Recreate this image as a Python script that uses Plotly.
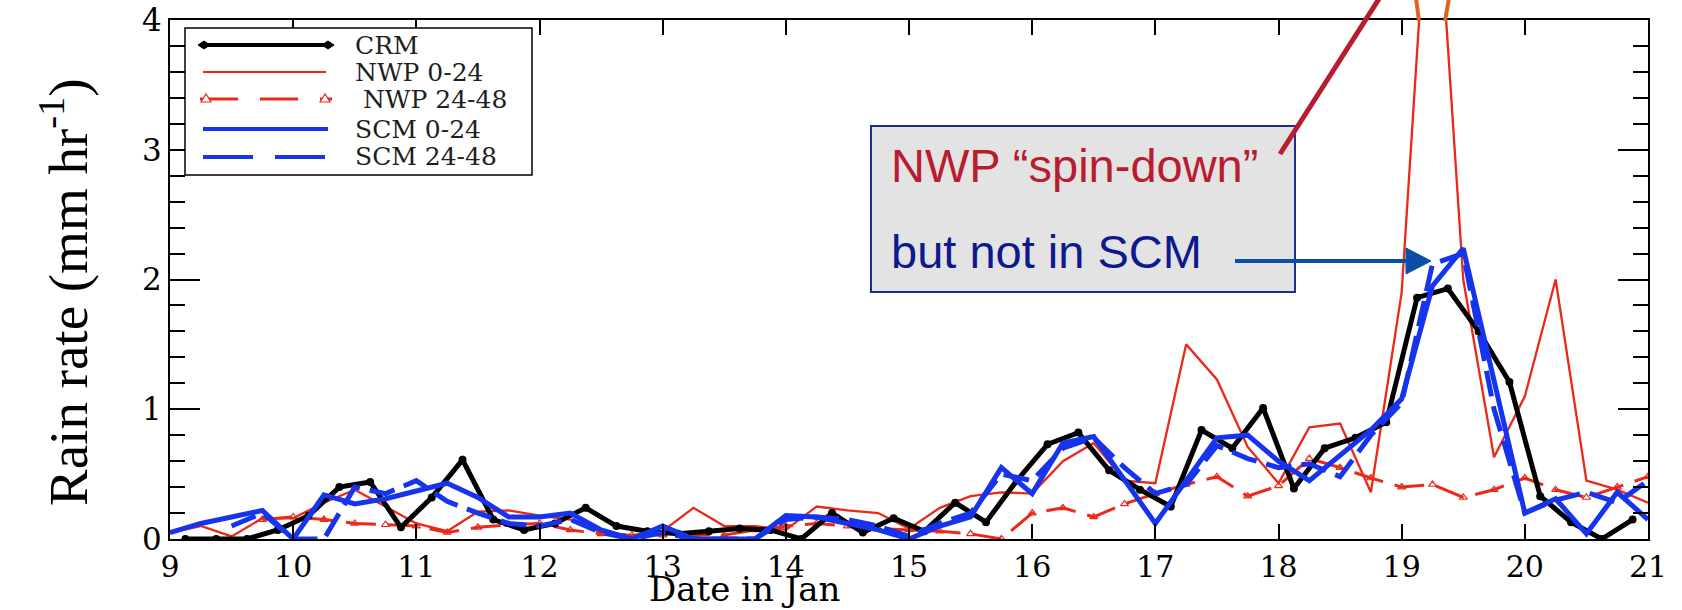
import plotly.graph_objects as go

# ---------------- data (rain rate, mm/hr) ----------------
crm_x0 = 9.125   # CRM sampled 6-hourly from 9.125
crm = [0.0, 0.0, 0.0, 0.07, 0.18, 0.40, 0.44, 0.09, 0.32, 0.61, 0.15, 0.07,
       0.12, 0.24, 0.10, 0.06, 0.04, 0.06, 0.08, 0.07, 0.0, 0.20, 0.05, 0.16,
       0.06, 0.28, 0.13, 0.45, 0.73, 0.82, 0.53, 0.38, 0.25, 0.84, 0.70, 1.01,
       0.39, 0.70, 0.78, 0.90, 1.86, 1.93, 1.60, 1.21, 0.33, 0.13, 0.0, 0.15]

nwp0_x0 = 9.0
nwp_0_24 = [0.05, 0.10, 0.02, 0.16, 0.16, 0.28, 0.38, 0.25, 0.12, 0.06, 0.21, 0.22,
            0.18, 0.15, 0.05, 0.03, 0.06, 0.24, 0.10, 0.10, 0.07, 0.25, 0.22, 0.20,
            0.08, 0.24, 0.33, 0.36, 0.35, 0.60, 0.74, 0.45, 0.43, 1.50, 1.23, 0.71,
            0.43, 0.86, 0.89, 0.36, 1.90, 5.60, 2.00, 0.63, 1.10, 2.00, 0.45, 0.38,
            0.28]

nwp24_x0 = 9.75
nwp_24_48 = [0.15, 0.17, 0.15, 0.12, 0.11, 0.10, 0.05, 0.09, 0.11, 0.12, 0.07, 0.04,
             0.03, 0.03, 0.03, 0.03, 0.07, 0.10, 0.12, 0.10, 0.08, 0.07, 0.06, 0.04,
             0.0, 0.20, 0.24, 0.17, 0.27, 0.35, 0.42, 0.48, 0.33, 0.41, 0.62, 0.55,
             0.47, 0.40, 0.42, 0.32, 0.38, 0.47, 0.38, 0.32, 0.40, 0.48]

scm0_x0 = 9.0
scm_0_24 = [0.05, 0.12, 0.17, 0.22, 0.0, 0.34, 0.27, 0.31, 0.37, 0.43, 0.32, 0.17,
            0.17, 0.20, 0.07, 0.0, 0.10, 0.0, 0.0, 0.0, 0.18, 0.17, 0.12, 0.07,
            0.0, 0.10, 0.17, 0.55, 0.35, 0.74, 0.79, 0.45, 0.12, 0.45, 0.78, 0.80,
            0.60, 0.45, 0.64, 0.84, 1.08, 1.95, 2.24, 1.20, 0.20, 0.31, 0.04, 0.36,
            0.15]

scm24_x0 = 9.5
scm_24_48 = [0.10, 0.20, 0.0, 0.0, 0.40, 0.35, 0.45, 0.29, 0.20, 0.12, 0.10, 0.15,
             0.05, 0.0, 0.05, 0.0, 0.0, 0.0, 0.15, 0.17, 0.15, 0.10, 0.02, 0.12,
             0.20, 0.50, 0.45, 0.70, 0.78, 0.55, 0.35, 0.42, 0.72, 0.62, 0.55, 0.58,
             0.48, 0.80, 1.05, 2.12, 2.20, 1.00, 0.20, 0.30, 0.36, 0.28, 0.45]

step = 0.25
x_ticks = list(range(9, 22))
y_ticks = [0, 1, 2, 3, 4]
legend_names = ["CRM", "NWP 0-24", " NWP 24-48", "SCM 0-24", "SCM 24-48"]


def xs(x0, vals):
    return [x0 + step * i for i in range(len(vals))]


# ---------------- styling ----------------
W, H = 1682, 610
L, R, T, B = 170, 1648, 20, 539
RED = "rgb(236,40,24)"
BLUE = "rgb(22,52,238)"
BLACK = "black"
CRIMSON = "#b81c2e"
NAVY = "#0c1a8c"
ARROW = "#0b4ea6"
ORANGE = "#e0621c"
SERIF = "DejaVu Serif"


def px(x):
    return (x - L) / (R - L)


def py(y):
    return (B - y) / (B - T)


fig = go.Figure()
fig.add_trace(go.Scatter(x=xs(nwp24_x0, nwp_24_48), y=nwp_24_48, mode="lines+markers",
                         line=dict(color=RED, width=3, dash="30px,12px"),
                         marker=dict(symbol="triangle-up-open", size=7, color=RED,
                                     line=dict(width=1.2, color=RED)),
                         showlegend=False))
fig.add_trace(go.Scatter(x=xs(nwp0_x0, nwp_0_24), y=nwp_0_24, mode="lines",
                         line=dict(color=RED, width=2.3), showlegend=False))
fig.add_trace(go.Scatter(x=xs(crm_x0, crm), y=crm, mode="lines+markers",
                         line=dict(color=BLACK, width=5),
                         marker=dict(symbol="circle", size=8, color=BLACK),
                         showlegend=False))
fig.add_trace(go.Scatter(x=xs(scm24_x0, scm_24_48), y=scm_24_48, mode="lines",
                         line=dict(color=BLUE, width=5, dash="26px,10px"),
                         showlegend=False))
fig.add_trace(go.Scatter(x=xs(scm0_x0, scm_0_24), y=scm_0_24, mode="lines",
                         line=dict(color=BLUE, width=5), showlegend=False))

shapes = []
annotations = []

# ---- hand-drawn legend box ----
shapes.append(dict(type="rect", xref="paper", yref="paper",
                   x0=px(185), x1=px(532), y0=py(175), y1=py(28),
                   line=dict(color="black", width=1.5), fillcolor="white"))
rows = [45, 72, 99, 129, 157]
# CRM
shapes.append(dict(type="line", xref="paper", yref="paper", x0=px(203), x1=px(329),
                   y0=py(rows[0]), y1=py(rows[0]), line=dict(color=BLACK, width=4)))
for cx in (204, 328):
    shapes.append(dict(type="path", xref="paper", yref="paper",
                       path=f"M {px(cx-6)},{py(rows[0])} L {px(cx)},{py(rows[0]-4)} "
                            f"L {px(cx+6)},{py(rows[0])} L {px(cx)},{py(rows[0]+4)} Z",
                       fillcolor=BLACK, line=dict(color=BLACK, width=1)))
# NWP 0-24
shapes.append(dict(type="line", xref="paper", yref="paper", x0=px(203), x1=px(326),
                   y0=py(rows[1]), y1=py(rows[1]), line=dict(color=RED, width=2)))
# NWP 24-48
shapes.append(dict(type="line", xref="paper", yref="paper", x0=px(200), x1=px(332),
                   y0=py(rows[2]), y1=py(rows[2]),
                   line=dict(color=RED, width=3, dash="38px,22px")))
for cx in (206, 325):
    shapes.append(dict(type="path", xref="paper", yref="paper",
                       path=f"M {px(cx-5)},{py(rows[2]+3)} L {px(cx)},{py(rows[2]-5)} "
                            f"L {px(cx+5)},{py(rows[2]+3)} Z",
                       fillcolor="white", line=dict(color=RED, width=1.2)))
# SCM 0-24
shapes.append(dict(type="line", xref="paper", yref="paper", x0=px(203), x1=px(328),
                   y0=py(rows[3]), y1=py(rows[3]), line=dict(color=BLUE, width=4)))
# SCM 24-48
shapes.append(dict(type="line", xref="paper", yref="paper", x0=px(203), x1=px(326),
                   y0=py(rows[4]), y1=py(rows[4]),
                   line=dict(color=BLUE, width=4, dash="50px,22px")))
for i, name in enumerate(legend_names):
    annotations.append(dict(xref="paper", yref="paper", x=px(353), y=py(rows[i]),
                            xanchor="left", yanchor="middle", showarrow=False,
                            text=name.replace(" ", "\u00a0"),
                            font=dict(family=SERIF, size=25, color="#1e1e1e")))

# ---- callout box ----
shapes.append(dict(type="rect", xref="paper", yref="paper",
                   x0=px(871), x1=px(1295), y0=py(292), y1=py(126),
                   line=dict(color="#1f2d8f", width=2), fillcolor="#e3e3e3"))
annotations.append(dict(xref="paper", yref="paper", x=px(889), y=py(165),
                        xanchor="left", yanchor="middle", showarrow=False,
                        text="NWP \u201cspin-down\u201d",
                        font=dict(family="Liberation Sans", size=47, color=CRIMSON)))
annotations.append(dict(xref="paper", yref="paper", x=px(889), y=py(251),
                        xanchor="left", yanchor="middle", showarrow=False,
                        text="but not in SCM",
                        font=dict(family="Liberation Sans", size=47, color=NAVY)))
# blue arrow
shapes.append(dict(type="line", xref="paper", yref="paper", x0=px(1235), x1=px(1409),
                   y0=py(261), y1=py(261), line=dict(color=ARROW, width=4)))
shapes.append(dict(type="path", xref="paper", yref="paper",
                   path=f"M {px(1406)},{py(248)} L {px(1431)},{py(261)} L {px(1406)},{py(274)} Z",
                   fillcolor=ARROW, line=dict(color=ARROW, width=1)))
# crimson pointer line
shapes.append(dict(type="line", xref="paper", yref="paper", x0=px(1280), x1=px(1384),
                   y0=py(154), y1=py(-9), line=dict(color=CRIMSON, width=5)))
# orange marks above the peak
shapes.append(dict(type="line", xref="paper", yref="paper", x0=px(1419), x1=px(1416),
                   y0=py(21), y1=py(-2), line=dict(color=ORANGE, width=4)))
shapes.append(dict(type="line", xref="paper", yref="paper", x0=px(1445), x1=px(1449),
                   y0=py(21), y1=py(-2), line=dict(color=ORANGE, width=4)))

# axis titles
annotations.append(dict(xref="paper", yref="paper", x=px(745), y=py(589),
                        xanchor="center", yanchor="middle", showarrow=False,
                        text="Date in Jan", font=dict(family=SERIF, size=34, color="black")))
annotations.append(dict(xref="paper", yref="paper", x=px(64), y=py(292),
                        xanchor="center", yanchor="middle", showarrow=False, textangle=-90,
                        text="Rain rate (mm hr<sup>-1</sup>)",
                        font=dict(family="Liberation Serif", size=55, color="black")))

fig.update_layout(
    width=W, height=H, autosize=False,
    margin=dict(l=L, r=W - R, t=T, b=H - B, pad=0),
    paper_bgcolor="white", plot_bgcolor="white",
    showlegend=False,
    shapes=shapes, annotations=annotations,
    xaxis=dict(range=[9, 21], tickvals=x_ticks, ticktext=[str(v) for v in x_ticks],
               ticks="inside", ticklen=15, tickwidth=2, tickcolor="black",
               showline=True, linecolor="black", linewidth=2, mirror="ticks",
               showgrid=False, zeroline=False, automargin=False,
               tickfont=dict(family=SERIF, size=30, color="black")),
    yaxis=dict(range=[0, 4], tickvals=y_ticks, ticktext=[str(v) for v in y_ticks],
               ticks="inside", ticklen=30, tickwidth=2, tickcolor="black",
               minor=dict(dtick=0.2, ticks="inside", ticklen=15, tickwidth=1.5,
                          tickcolor="black", showgrid=False),
               showline=True, linecolor="black", linewidth=2, mirror="ticks",
               showgrid=False, zeroline=False, automargin=False,
               tickfont=dict(family=SERIF, size=31, color="black")),
)

fig.write_html("out.html")
